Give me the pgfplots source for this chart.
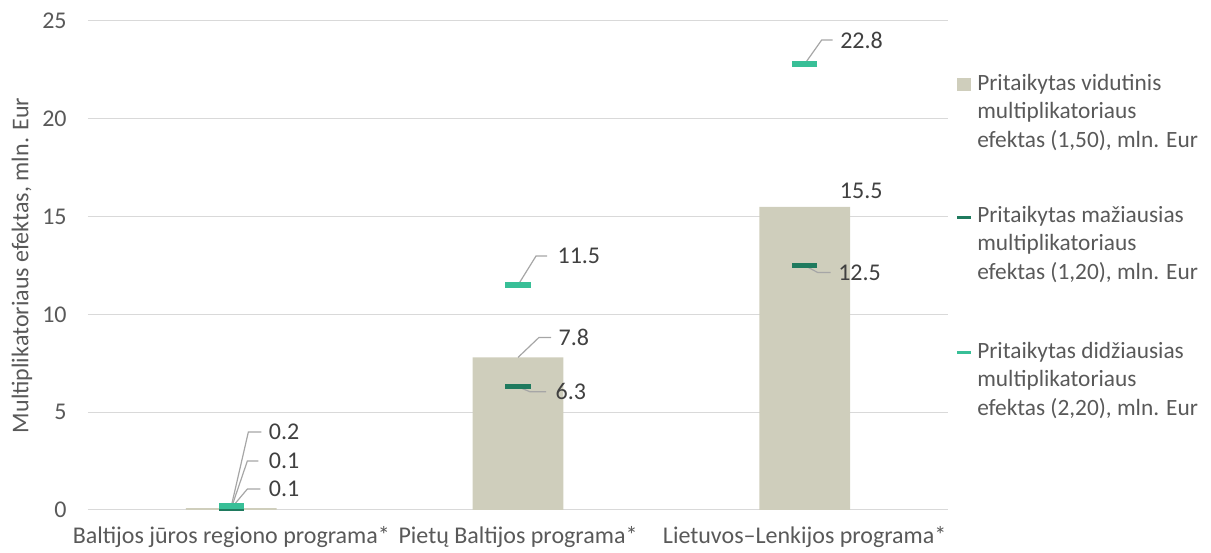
\documentclass[border=0pt]{standalone}
\usepackage{pgfplots}
\pgfplotsset{compat=1.18}
\usepackage{fontspec}
\setmainfont{Carlito}
\definecolor{txt}{HTML}{404040}
\definecolor{ticktxt}{HTML}{595959}
\definecolor{barc}{HTML}{CFCEBC}
\definecolor{mind}{HTML}{1F7A5E}
\definecolor{maxd}{HTML}{38BF97}
\definecolor{gridc}{HTML}{D9D9D9}
\definecolor{leadc}{HTML}{A6A6A6}
\tikzset{
  lead/.style={draw=leadc, line width=0.9pt},
  lab/.style={anchor=west, inner sep=0pt, text=txt, font=\fontsize{18}{21}\selectfont},
  leg/.style={anchor=base west, inner sep=0pt, text=ticktxt, font=\fontsize{17.5}{21}\selectfont}
}
\begin{document}
\begin{tikzpicture}
\path[use as bounding box] (-66pt,-32.25pt) rectangle (842.25pt,382.5pt);
\begin{axis}[at={(0pt,0pt)}, anchor=south west, scale only axis,
  width=645pt, height=366.75pt,
  xmin=-0.5, xmax=2.5, ymin=0, ymax=25,
  xtick={0,1,2},
  xticklabels={Baltijos jūros regiono programa*, Pietų Baltijos programa*, Lietuvos–Lenkijos programa*},
  ytick={0,5,...,25},
  ymajorgrids, grid style={gridc, line width=0.75pt},
  axis line style={draw=none},
  major tick length=0pt,
  /pgf/number format/assume math mode=true,
  tick label style={font=\fontsize{18}{21}\selectfont, text=ticktxt},
  xticklabel style={yshift=-9pt},
  yticklabel style={xshift=-12.5pt},
  ylabel={Multiplikatoriaus efektas, mln. Eur},
  ylabel style={at={(axis description cs:0,0.5)}, anchor=center, yshift=49.5pt,
    font=\fontsize{18}{21}\selectfont, text=ticktxt},
  clip=false]
\addplot[ybar, bar width=68pt, fill=barc, draw=none] coordinates {(0,0.1) (1,7.8) (2,15.5)};
\addplot[only marks, mark=-, mark size=9.4pt, mark options={draw=mind, line width=4pt}]
  coordinates {(0,0.1) (1,6.3) (2,12.5)};
\addplot[only marks, mark=-, mark size=9.4pt, mark options={draw=maxd, line width=4pt}]
  coordinates {(0,0.2) (1,11.5) (2,22.8)};
% data labels
\draw[lead] (axis cs:2,22.8) -- ++(12.75pt,18pt) -- ++(8.25pt,0pt) node[lab, xshift=5.25pt] {22.8};
\draw[lead] (axis cs:2,12.5) -- ++(9.75pt,-5.25pt) -- ++(9.75pt,0pt) node[lab, xshift=5.25pt] {12.5};
\node[lab] at (axis cs:2,15.5) [xshift=26.25pt, yshift=12pt] {15.5};
\draw[lead] (axis cs:1,11.5) -- ++(13.5pt,21.75pt) -- ++(8.25pt,0pt) node[lab, xshift=7.5pt] {11.5};
\draw[lead] (axis cs:1,7.8) -- ++(15.75pt,15pt) -- ++(9pt,0pt) node[lab, xshift=5.25pt] {7.8};
\draw[lead] (axis cs:1,6.3) -- ++(9pt,-3.75pt) -- ++(12pt,0pt) node[lab, xshift=6.75pt] {6.3};
\draw[lead] (axis cs:0,0.2) -- ++(12.75pt,55.5pt) -- ++(9.75pt,0pt) node[lab, xshift=5.25pt] {0.2};
\draw[lead] (axis cs:0,0.1) -- ++(12pt,35.25pt) -- ++(8.25pt,0pt) node[lab, xshift=7.5pt] {0.1};
\draw[lead] (axis cs:0,0.1) -- ++(12pt,14.25pt) -- ++(9.75pt,0pt) node[lab, xshift=6pt] {0.1};
\end{axis}
% legend
\fill[barc] (651.75pt,314.25pt) rectangle (662.25pt,324pt);
\draw[mind, line width=2.25pt] (651.75pt,219pt) -- (662.25pt,219pt);
\draw[maxd, line width=2.25pt] (651.75pt,117.75pt) -- (662.25pt,117.75pt);
\node[leg] at (666.75pt,314.25pt) {Pritaikytas vidutinis};
\node[leg] at (666.75pt,293.25pt) {multiplikatoriaus};
\node[leg] at (666.75pt,271.5pt) {efektas (1,50), mln. Eur};
\node[leg] at (666.75pt,215.25pt) {Pritaikytas mažiausias};
\node[leg] at (666.75pt,194.25pt) {multiplikatoriaus};
\node[leg] at (666.75pt,172.5pt) {efektas (1,20), mln. Eur};
\node[leg] at (666.75pt,113.25pt) {Pritaikytas didžiausias};
\node[leg] at (666.75pt,92.25pt) {multiplikatoriaus};
\node[leg] at (666.75pt,70.5pt) {efektas (2,20), mln. Eur};
\end{tikzpicture}
\end{document}
